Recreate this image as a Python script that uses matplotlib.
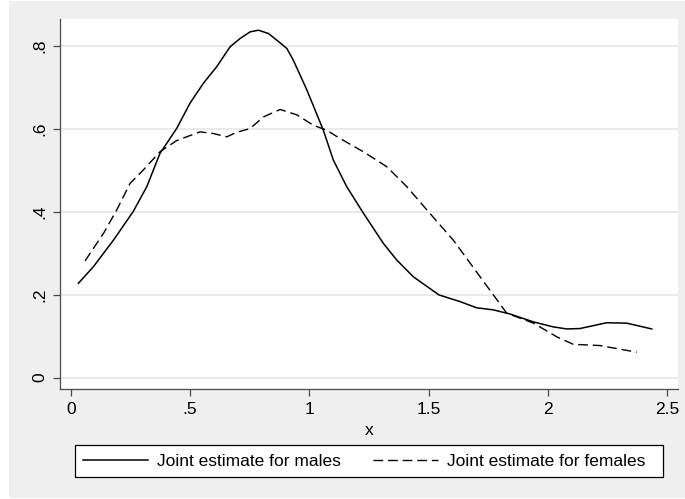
import matplotlib
matplotlib.use("Agg")
import matplotlib.pyplot as plt
from matplotlib.patches import Rectangle
from matplotlib.lines import Line2D

# values
males_x = [0.032, 0.095, 0.179, 0.262, 0.319, 0.374, 0.444, 0.500, 0.556, 0.612,
           0.668, 0.710, 0.752, 0.787, 0.829, 0.864, 0.906, 0.933, 0.990, 1.059,
           1.101, 1.157, 1.227, 1.311, 1.367, 1.436, 1.465, 1.544, 1.632, 1.702,
           1.772, 1.842, 1.940, 2.023, 2.080, 2.135, 2.247, 2.331, 2.436]
males_y = [0.227, 0.267, 0.331, 0.400, 0.460, 0.540, 0.600, 0.661, 0.709, 0.749,
           0.797, 0.817, 0.833, 0.837, 0.829, 0.813, 0.793, 0.765, 0.693, 0.596,
           0.524, 0.460, 0.396, 0.323, 0.283, 0.243, 0.231, 0.199, 0.183, 0.168,
           0.163, 0.153, 0.134, 0.122, 0.117, 0.118, 0.132, 0.131, 0.117]

females_x = [0.060, 0.137, 0.193, 0.249, 0.304, 0.374, 0.444, 0.542, 0.598, 0.654,
             0.696, 0.752, 0.808, 0.878, 0.948, 1.017, 1.073, 1.129, 1.227, 1.325,
             1.409, 1.493, 1.604, 1.716, 1.828, 1.940, 2.038, 2.107, 2.219, 2.373]
females_y = [0.281, 0.347, 0.404, 0.468, 0.500, 0.544, 0.571, 0.592, 0.588, 0.580,
             0.591, 0.600, 0.628, 0.646, 0.633, 0.608, 0.596, 0.576, 0.544, 0.508,
             0.460, 0.404, 0.331, 0.243, 0.155, 0.131, 0.098, 0.080, 0.077, 0.061]

xticks = [0, 0.5, 1, 1.5, 2, 2.5]
xtick_labels = ["0", ".5", "1", "1.5", "2", "2.5"]
yticks = [0, 0.2, 0.4, 0.6, 0.8]
ytick_labels = ["0", ".2", ".4", ".6", ".8"]
labels = ["Joint estimate for males", "Joint estimate for females"]

plt.rcParams["font.family"] = ["Liberation Sans", "DejaVu Sans"]
fs = 12.5
dash = (0, (7, 3.5))

fig = plt.figure(figsize=(6.85, 4.99), dpi=100)
fig.patch.set_facecolor("white")
# stata-ish gray backdrop
fig.patches.append(Rectangle((9 / 685, 1 / 499), 676 / 685, 497 / 499,
                             transform=fig.transFigure, facecolor="#efefef",
                             edgecolor="none", zorder=-10))

ax = fig.add_axes([60 / 685, 1 - 389 / 499, 618 / 685, 370 / 499])
ax.set_facecolor("white")

ax.plot(males_x, males_y, color="black", lw=1.1)
ax.plot(females_x, females_y, color="black", lw=1.0, linestyle=dash)

ax.set_xlim(-0.045, 2.546)
ax.set_ylim(-0.0277, 0.864)
ax.set_xticks(xticks)
ax.set_xticklabels(xtick_labels)
ax.set_yticks(yticks)
ax.set_yticklabels(ytick_labels, rotation=90, va="center")
ax.grid(axis="y", color="#e6e6e6", lw=1.2)
ax.set_axisbelow(True)

for s in ["top", "right"]:
    ax.spines[s].set_visible(False)
for s in ["left", "bottom"]:
    ax.spines[s].set_color("#4a4a4a")
    ax.spines[s].set_linewidth(0.9)
ax.tick_params(direction="out", length=5, width=0.9, color="#4a4a4a", pad=4,
               labelsize=fs)
ax.set_xlabel("x", fontsize=fs, labelpad=5)

# legend box drawn by hand so its width matches
fig.patches.append(Rectangle((75 / 685, 1 - 477 / 499), 588 / 685, 32 / 499,
                             transform=fig.transFigure, facecolor="white",
                             edgecolor="black", lw=0.9, zorder=5))
handles = [Line2D([], [], color="black", lw=1.1),
           Line2D([], [], color="black", lw=1.0, linestyle=dash)]
leg = fig.legend(handles, labels, loc="center left",
                 bbox_to_anchor=(75 / 685, 1 - 461 / 499),
                 ncol=2, frameon=False, handlelength=3.75, handletextpad=0.52,
                 columnspacing=1.85, borderpad=0.46, borderaxespad=0,
                 fontsize=fs)
leg.set_zorder(6)

fig.savefig("out.png", dpi=100)
